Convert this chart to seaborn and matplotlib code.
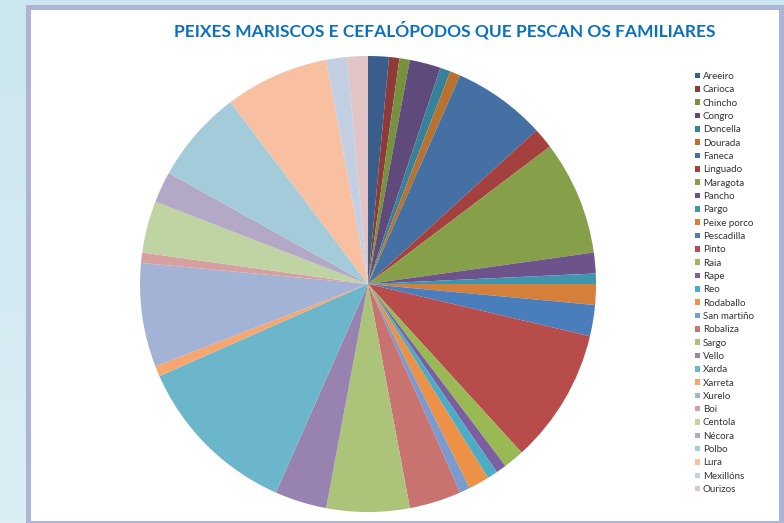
import numpy as np
import matplotlib
matplotlib.use("Agg")
import matplotlib.pyplot as plt
from matplotlib.patches import Rectangle
import seaborn as sns

categories = ["Areeiro", "Carioca", "Chincho", "Congro", "Doncella", "Dourada", "Faneca",
              "Linguado", "Maragota", "Pancho", "Pargo", "Peixe porco", "Pescadilla", "Pinto",
              "Raia", "Rape", "Reo", "Rodaballo", "San martiño", "Robaliza", "Sargo", "Vello",
              "Xarda", "Xarreta", "Xurelo", "Boi", "Centola", "Nécora", "Polbo", "Lura",
              "Mexillóns", "Ourizos"]
values = [2, 1, 1, 3, 1, 1, 9, 2, 11, 2, 1, 2, 3, 13, 2, 1, 1, 2, 1, 5, 8, 5,
          16, 1, 10, 1, 5, 3, 9, 10, 2, 2]
colors = ["#3a5e8c", "#8e3a39", "#76923c", "#5f4a7b", "#37829a", "#b9712f", "#4470a4",
          "#a4403d", "#86a04a", "#6e528c", "#3f95ab", "#d4803a", "#4a7dbb", "#b84c4a",
          "#98b954", "#7c5fa0", "#4bacc6", "#ec9145", "#7b9bd0", "#c97371", "#abc47a",
          "#9883b0", "#6cb6cc", "#f8a670", "#a2b3d5", "#d6a0a0", "#c0d3a3", "#b3a8c6",
          "#a4cbda", "#f8c0a0", "#c3cfe3", "#e2c4c6"]
title = "PEIXES MARISCOS E CEFALÓPODOS QUE PESCAN OS FAMILIARES"

sns.set_style("white")
plt.rcParams['font.family'] = ['Lato', 'DejaVu Sans']
palette = sns.color_palette(colors)

W, H = 784, 523
fig = plt.figure(figsize=(W / 100, H / 100), dpi=100)

# background gradient
bg = fig.add_axes([0, 0, 1, 1], zorder=-10)
grad = np.linspace(0, 1, 256).reshape(-1, 1)
top = np.array([0.796, 0.902, 0.937])
bot = np.array([0.863, 0.933, 0.961])
img = top[None, None, :] * (1 - grad[:, :, None]) + bot[None, None, :] * grad[:, :, None]
bg.imshow(img, aspect='auto', extent=[0, 1, 0, 1], origin='upper')
bg.set_xlim(0, 1); bg.set_ylim(0, 1); bg.axis('off')

def px_rect(x0, y0, x1, y1, color):
    bg.add_patch(Rectangle((x0 / W, 1 - y1 / H), (x1 - x0) / W, (y1 - y0) / H,
                           color=color, lw=0, transform=bg.transAxes))

px_rect(26, 5, 784, 523, "#aeb3d8")
px_rect(31, 10, 779, 521, "#ffffff")

# pie
cx, cy, R = 368, 284, 228
ax = fig.add_axes([(cx - R) / W, 1 - (cy + R) / H, 2 * R / W, 2 * R / H])
wedges, _ = ax.pie(values, colors=palette, startangle=90, counterclock=False,
                   wedgeprops=dict(linewidth=0), radius=1)
ax.set_xlim(-1, 1); ax.set_ylim(-1, 1); ax.set_aspect('auto')
ax.axis('off')

fig.text(445 / W, 1 - 30.5 / H, title, ha='center', va='center', fontsize=12.5,
         fontweight='bold', color='#0b70c0')

leg = fig.legend(wedges, categories, loc='upper left', bbox_to_anchor=(695 / W, 1 - 72 / H),
                 frameon=False, fontsize=7.0, handlelength=0.5, handleheight=0.5,
                 handletextpad=0.3, labelspacing=0.445, borderpad=0, borderaxespad=0)
for t in leg.get_texts():
    t.set_color('#333333')

fig.savefig("out.png", dpi=100)
